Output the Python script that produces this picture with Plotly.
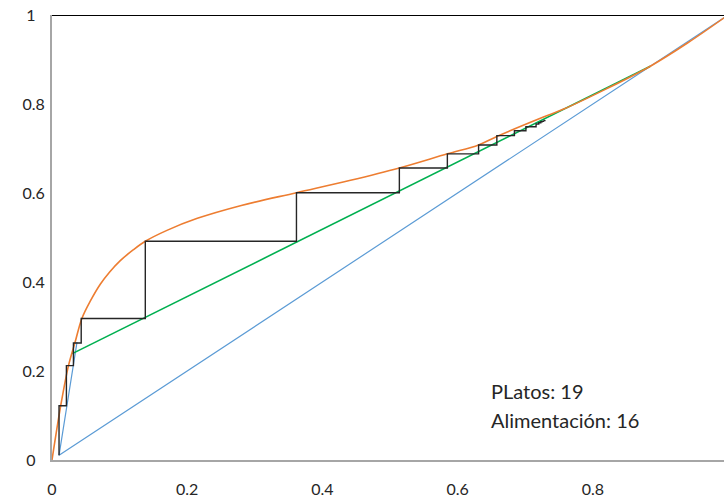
import plotly.graph_objects as go

# Equilibrium curve (orange)
eq_x = [0, 0.0129, 0.0243, 0.0342, 0.0442, 0.057, 0.0714, 0.085, 0.101, 0.12, 0.138, 0.17,
        0.215, 0.28, 0.3616, 0.44, 0.5138, 0.5848, 0.631, 0.658, 0.726, 0.756, 0.82, 0.885,
        0.94, 1.0]
eq_y = [0, 0.122, 0.2116, 0.265, 0.318, 0.358, 0.395, 0.422, 0.448, 0.472, 0.4915, 0.516,
        0.543, 0.572, 0.6007, 0.628, 0.6563, 0.688, 0.708, 0.727, 0.770, 0.788, 0.834, 0.885,
        0.937, 1.0]

# Rectifying operating line (green)
rect_x = [0.030, 0.885]
rect_y = [0.239, 0.885]

# Stripping line + diagonal (blue)
diag_x = [0.037, 0.0104, 1.0]
diag_y = [0.265, 0.0104, 1.0]

# Stages: x where each vertical is drawn and the y reached
stage_x = [0.0104, 0.0213, 0.0317, 0.0432, 0.138, 0.3616, 0.5138, 0.5848, 0.631, 0.658,
           0.684, 0.701, 0.716, 0.720, 0.723, 0.725, 0.727, 0.728, 0.729]
stage_y = [0.122, 0.212, 0.263, 0.318, 0.4915, 0.6007, 0.6563, 0.688, 0.708, 0.729,
           0.740, 0.749, 0.755, 0.758, 0.760, 0.761, 0.762, 0.763, 0.764]
x_w = 0.0104

top_x = [0, 1]
top_y = [1, 1]

x_ticks = [0, 0.2, 0.4, 0.6, 0.8]
y_ticks = [0, 0.2, 0.4, 0.6, 0.8, 1]
y_ticktext = ["0\u2007", "0.2", "0.4", "0.6", "0.8", "1\u2007"]

# build staircase path from stage data
st_x, st_y = [x_w], [x_w]
for i, (sx, sy) in enumerate(zip(stage_x, stage_y)):
    st_x.append(sx); st_y.append(sy)
    if i + 1 < len(stage_x):
        st_x.append(stage_x[i + 1]); st_y.append(sy)

fig = go.Figure()
fig.add_trace(go.Scatter(x=diag_x, y=diag_y, mode="lines",
                         line=dict(color="#5B9BD5", width=1.2), cliponaxis=False))
fig.add_trace(go.Scatter(x=rect_x, y=rect_y, mode="lines",
                         line=dict(color="#00B050", width=1.6), cliponaxis=False))
fig.add_trace(go.Scatter(x=eq_x, y=eq_y, mode="lines",
                         line=dict(color="#ED7D31", width=1.6, shape="spline", smoothing=1.0),
                         cliponaxis=False))
fig.add_trace(go.Scatter(x=st_x, y=st_y, mode="lines",
                         line=dict(color="#262626", width=1.4), cliponaxis=False))
fig.add_trace(go.Scatter(x=top_x, y=top_y, mode="lines",
                         line=dict(color="#000000", width=2), cliponaxis=False))

font_family = "Lato, Open Sans, sans-serif"
fig.update_layout(
    width=724, height=498,
    margin=dict(l=52, r=0, t=15, b=34),
    paper_bgcolor="white", plot_bgcolor="white",
    showlegend=False,
    font=dict(family=font_family, size=16, color="#404040"),
    xaxis=dict(range=[0, 0.994], tickvals=x_ticks, showgrid=False, zeroline=False,
               showline=True, linecolor="#A6A6A6", linewidth=2, ticks="",
               ticklabelstandoff=14, tickfont=dict(size=16, color="#262626")),
    yaxis=dict(range=[0, 1], tickvals=y_ticks, ticktext=y_ticktext, showgrid=False,
               zeroline=False, showline=True, linecolor="#A6A6A6", linewidth=2,
               ticks="", ticklabelstandoff=2, tickfont=dict(size=16, color="#262626")),
    annotations=[
        dict(x=0.646, y=0.155, xref="x", yref="y", text="PLatos: 19", showarrow=False,
             xanchor="left", yanchor="middle", font=dict(size=20, color="#262626")),
        dict(x=0.646, y=0.089, xref="x", yref="y", text="Alimentación: 16", showarrow=False,
             xanchor="left", yanchor="middle", font=dict(size=20, color="#262626")),
    ],
)
fig.write_html("out.html")
